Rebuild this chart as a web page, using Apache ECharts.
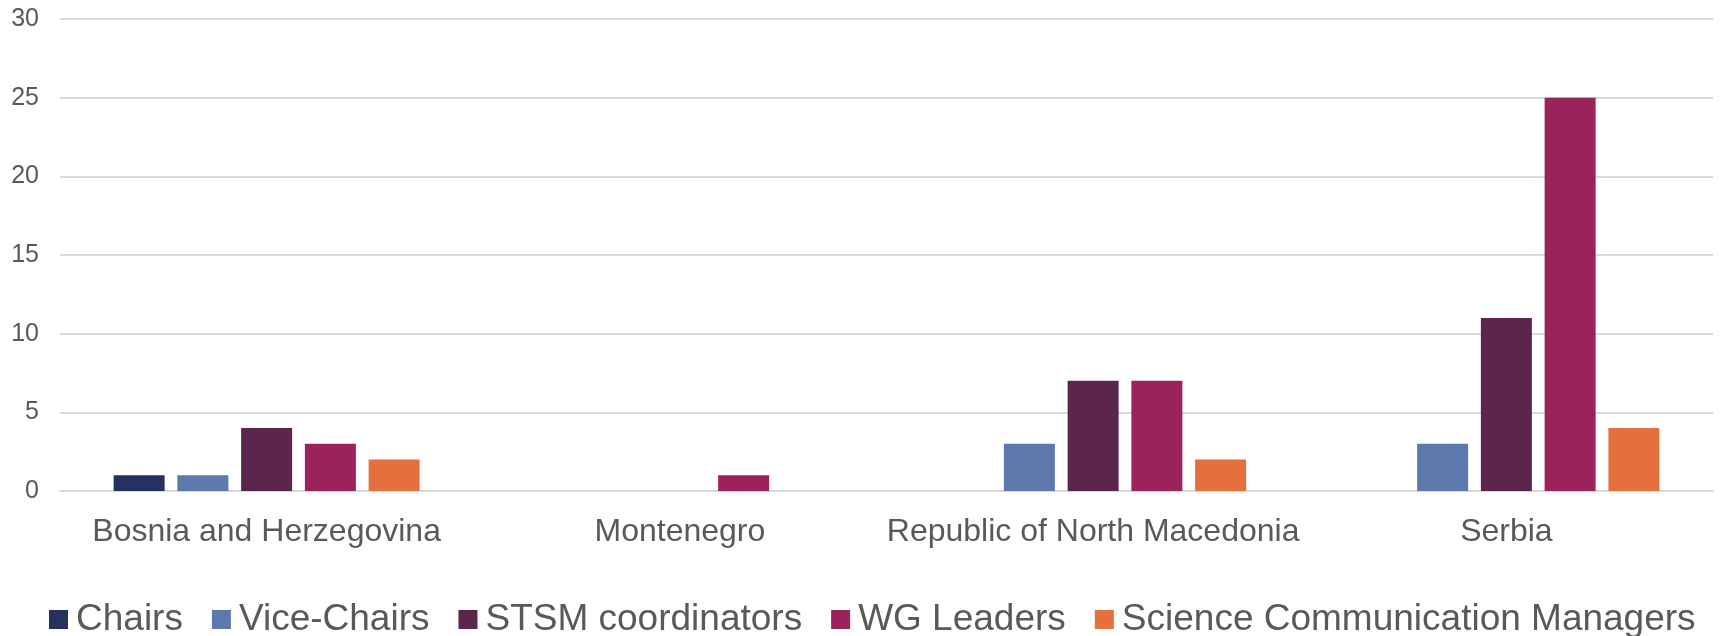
<!DOCTYPE html>
<html lang="en">
<head>
    <meta charset="UTF-8">
    <title>Roles by country</title>
    <script src="https://cdn.jsdelivr.net/npm/echarts@6/dist/echarts.min.js"></script>
    <style>
        html, body { margin: 0; padding: 0; background: #fff; }
    </style>
</head>
<body>
<div id="myChart" style="width: 1721px;height: 636px"></div>
<script>
    // countries on the x axis
    var countries = ['Bosnia and Herzegovina', 'Montenegro', 'Republic of North Macedonia', 'Serbia'];
    // one array per role
    var chairs = [1, 0, 0, 0];
    var viceChairs = [1, 0, 3, 3];
    var stsmCoordinators = [4, 0, 7, 11];
    var wgLeaders = [3, 1, 7, 25];
    var scienceCommManagers = [2, 0, 2, 4];

    var names = ['Chairs', 'Vice-Chairs', 'STSM coordinators', 'WG Leaders', 'Science Communication Managers'];
    var colors = ['#25315f', '#5e79ae', '#5c254d', '#99235a', '#e4703e'];
    var values = [chairs, viceChairs, stsmCoordinators, wgLeaders, scienceCommManagers];

    var myChart = echarts.init(document.getElementById('myChart'));

    var series = names.map(function (n, i) {
        return {
            name: n,
            type: 'bar',
            data: values[i],
            barWidth: 51,
            barGap: '25%',
            itemStyle: { color: colors[i] }
        };
    });

    myChart.setOption({
        animation: false,
        color: colors,
        textStyle: { fontFamily: 'Liberation Sans, Arial, sans-serif' },
        grid: { left: 60, right: 8, top: 19, bottom: 145 },
        legend: {
            data: names,
            left: 44,
            top: 596,
            itemWidth: 19,
            itemHeight: 19,
            itemGap: 29,
            icon: 'rect',
            textStyle: { fontSize: 37, color: '#595959', padding: [0, 0, 0, 3] }
        },
        xAxis: {
            type: 'category',
            data: countries,
            axisLine: { lineStyle: { color: '#d9d9d9', width: 2 } },
            axisTick: { show: false },
            axisLabel: { fontSize: 32, color: '#595959', margin: 25, interval: 0 }
        },
        yAxis: {
            type: 'value',
            min: 0,
            max: 30,
            interval: 5,
            axisLine: { show: false },
            axisTick: { show: false },
            axisLabel: { fontSize: 25, color: '#595959', margin: 21 },
            splitLine: { lineStyle: { color: '#d9d9d9', width: 2 } }
        },
        series: series
    });
</script>
</body>
</html>
